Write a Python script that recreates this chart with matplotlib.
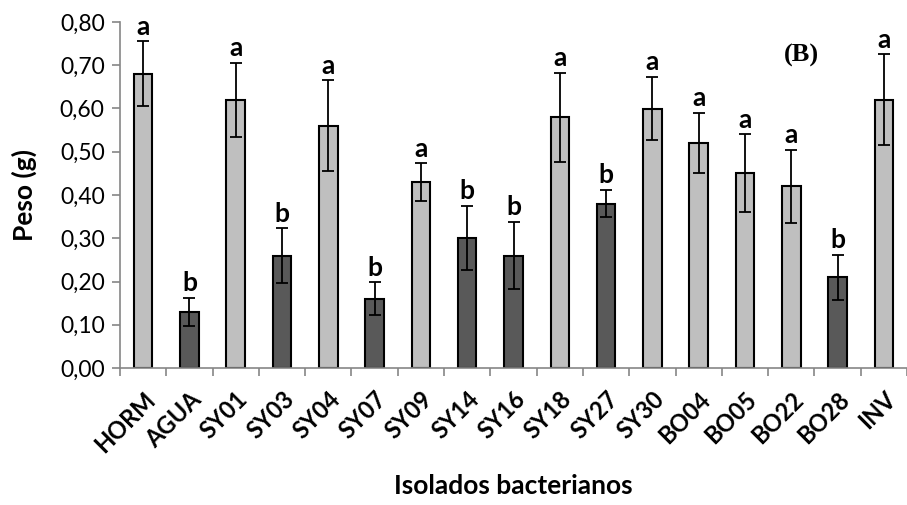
import numpy as np
import matplotlib.pyplot as plt
from matplotlib.ticker import FixedLocator, FuncFormatter

# data
isolados = ["HORM", "AGUA", "SY01", "SY03", "SY04", "SY07", "SY09", "SY14", "SY16",
            "SY18", "SY27", "SY30", "BO04", "BO05", "BO22", "BO28", "INV"]
peso = [0.68, 0.13, 0.62, 0.26, 0.56, 0.16, 0.43, 0.30, 0.26,
        0.58, 0.38, 0.60, 0.52, 0.45, 0.42, 0.21, 0.62]
erro = [0.075, 0.033, 0.085, 0.063, 0.105, 0.038, 0.043, 0.074, 0.078,
        0.103, 0.032, 0.073, 0.070, 0.090, 0.084, 0.052, 0.105]
letras = ["a", "b", "a", "b", "a", "b", "a", "b", "b",
          "a", "b", "a", "a", "a", "a", "b", "a"]

plt.rcParams['font.family'] = ['Lato', 'DejaVu Sans']

cores = ['#bfbfbf' if l == "a" else '#595959' for l in letras]
x = np.arange(len(isolados))

fig = plt.figure(figsize=(9.07, 5.05), dpi=100)
ax = fig.add_axes([120 / 907, 1 - 368 / 505, 787 / 907, 346 / 505])

ax.bar(x, peso, width=0.4, color=cores, edgecolor='black', linewidth=1.5, zorder=2)
ax.errorbar(x, peso, yerr=erro, fmt='none', ecolor='black', elinewidth=1.3,
            capsize=4.5, capthick=1.3, zorder=3)

for xi, v, e, l in zip(x, peso, erro, letras):
    ax.annotate(l, (xi, v + e), xytext=(0, 2), textcoords='offset points',
                ha='center', va='bottom', fontsize=19, fontweight='bold')

fig.text(801 / 907, 1 - 55 / 505, "(B)", fontsize=19, fontweight='bold',
         family='Liberation Serif', ha='center', va='center')

ax.set_xlim(-0.5, len(isolados) - 0.5)
ax.set_ylim(0, 0.8)
ax.set_yticks(np.arange(0, 0.81, 0.1))
ax.yaxis.set_major_formatter(FuncFormatter(lambda v, p: f"{v:.2f}".replace('.', ',')))
ax.tick_params(axis='y', labelsize=16.5, length=6, color='#868686', width=1.2, pad=5)

ax.set_xticks(x)
ax.set_xticklabels(isolados, rotation=45, ha='right', rotation_mode='anchor',
                   fontsize=17, fontweight='bold')
ax.tick_params(axis='x', which='major', length=0, pad=14)
ax.xaxis.set_minor_locator(FixedLocator(np.arange(-0.5, len(isolados), 1)))
ax.tick_params(axis='x', which='minor', length=6, color='#868686', width=1.2)

for s in ['top', 'right']:
    ax.spines[s].set_visible(False)
for s in ['left', 'bottom']:
    ax.spines[s].set_color('#868686')
    ax.spines[s].set_linewidth(1.2)

ax.set_ylabel("Peso (g)", fontsize=19, fontweight='bold')
ax.yaxis.set_label_coords(-0.106, 0.5)
fig.text(513 / 907, 1 - 486 / 505, "Isolados bacterianos", fontsize=19,
         fontweight='bold', ha='center', va='center')

fig.savefig('out.png', dpi=100)
plt.close()
